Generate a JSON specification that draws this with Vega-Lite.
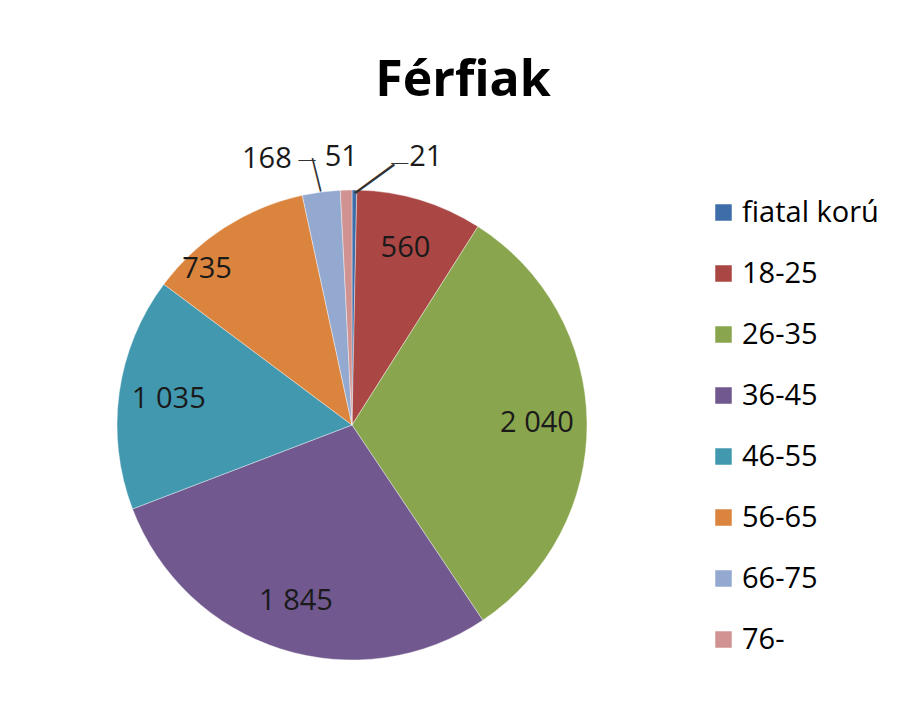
{
  "$schema": "https://vega.github.io/schema/vega-lite/v6.json",
  "width": 704,
  "height": 470,
  "autosize": {"type": "none"},
  "padding": {"left": 0, "top": 190, "right": 199, "bottom": 68},
  "background": "#ffffff",
  "config": {
    "view": {"stroke": null},
    "font": "Open Sans",
    "locale": {"number": {"decimal": ",", "thousands": " ", "grouping": [3], "currency": ["", ""]}}
  },
  "title": {
    "text": "Férfiak",
    "font": "Open Sans",
    "fontSize": 50,
    "fontWeight": "bold",
    "color": "#000000",
    "anchor": "middle",
    "dx": 111,
    "offset": 37
  },
  "data": {
    "values": [
      {"n": 1, "age": "fiatal korú", "v": 21},
      {"n": 2, "age": "18-25", "v": 560},
      {"n": 3, "age": "26-35", "v": 2040},
      {"n": 4, "age": "36-45", "v": 1845},
      {"n": 5, "age": "46-55", "v": 1035},
      {"n": 6, "age": "56-65", "v": 735},
      {"n": 7, "age": "66-75", "v": 168},
      {"n": 8, "age": "76-", "v": 51}
    ]
  },
  "encoding": {
    "theta": {"field": "v", "type": "quantitative", "stack": true},
    "order": {"field": "n", "type": "quantitative"}
  },
  "layer": [
    {
      "mark": {"type": "arc", "outerRadius": 235, "stroke": "#ffffff", "strokeWidth": 0.4},
      "encoding": {
        "color": {
          "field": "age",
          "type": "nominal",
          "scale": {
            "domain": ["fiatal korú", "18-25", "26-35", "36-45", "46-55", "56-65", "66-75", "76-"],
            "range": ["#3F6DAA", "#AA4643", "#89A54E", "#71588F", "#4198AF", "#DB843D", "#93A9CF", "#D19392"]
          },
          "legend": {
            "title": null,
            "orient": "none",
            "legendX": 709,
            "legendY": 8,
            "symbolType": "square",
            "symbolSize": 272,
            "symbolStrokeWidth": 0,
            "labelFont": "Open Sans",
            "labelFontSize": 29,
            "labelColor": "#000000",
            "labelOffset": 4,
            "rowPadding": 31,
            "padding": 0
          }
        }
      }
    },
    {
      "mark": {"type": "text", "radius": 185, "fontSize": 29, "font": "Open Sans", "color": "#1a1a1a"},
      "encoding": {
        "text": {"condition": {"test": "datum.v < 500 || datum.age === '56-65'", "value": ""}, "field": "v", "type": "quantitative", "format": ","}
      }
    },
    {
      "mark": {"type": "text", "radius": 185, "fontSize": 29, "font": "Open Sans", "color": "#1a1a1a", "dx": -45},
      "encoding": {
        "text": {"condition": {"test": "datum.age === '56-65'", "field": "v", "type": "quantitative"}, "value": ""}
      }
    },
    {
      "mark": {"type": "text", "radius": 268, "fontSize": 29, "font": "Open Sans", "color": "#1a1a1a", "dx": -50},
      "encoding": {
        "text": {"condition": {"test": "datum.age === '66-75'", "field": "v", "type": "quantitative"}, "value": ""}
      }
    },
    {
      "mark": {"type": "text", "radius": 268, "fontSize": 29, "font": "Open Sans", "color": "#1a1a1a", "dx": -4},
      "encoding": {
        "text": {"condition": {"test": "datum.age === '76-'", "field": "v", "type": "quantitative"}, "value": ""}
      }
    },
    {
      "mark": {"type": "text", "radius": 268, "fontSize": 29, "font": "Open Sans", "color": "#1a1a1a", "dx": 71},
      "encoding": {
        "text": {"condition": {"test": "datum.age === 'fiatal korú'", "field": "v", "type": "quantitative"}, "value": ""}
      }
    },
    {
      "mark": {"type": "text", "radius": 268, "fontSize": 17, "font": "Liberation Serif", "color": "#333333", "dx": -10, "dy": 0},
      "encoding": {
        "text": {"condition": {"test": "datum.age === '66-75'", "value": "—"}, "value": ""}
      }
    },
    {
      "mark": {"type": "text", "radius": 250, "fontSize": 34, "font": "Liberation Serif", "color": "#333333", "dx": -3, "dy": 0, "angle": 76},
      "encoding": {
        "text": {"condition": {"test": "datum.age === '66-75'", "value": "—"}, "value": ""}
      }
    },
    {
      "mark": {"type": "text", "radius": 268, "fontSize": 17, "font": "Liberation Serif", "color": "#333333", "dx": 45, "dy": 5},
      "encoding": {
        "text": {"condition": {"test": "datum.age === 'fiatal korú'", "value": "—"}, "value": ""}
      }
    },
    {
      "mark": {"type": "text", "radius": 250, "fontSize": 48, "font": "Liberation Serif", "color": "#333333", "dx": 14, "dy": 12, "angle": -36},
      "encoding": {
        "text": {"condition": {"test": "datum.age === 'fiatal korú'", "value": "—"}, "value": ""}
      }
    }
  ]
}
